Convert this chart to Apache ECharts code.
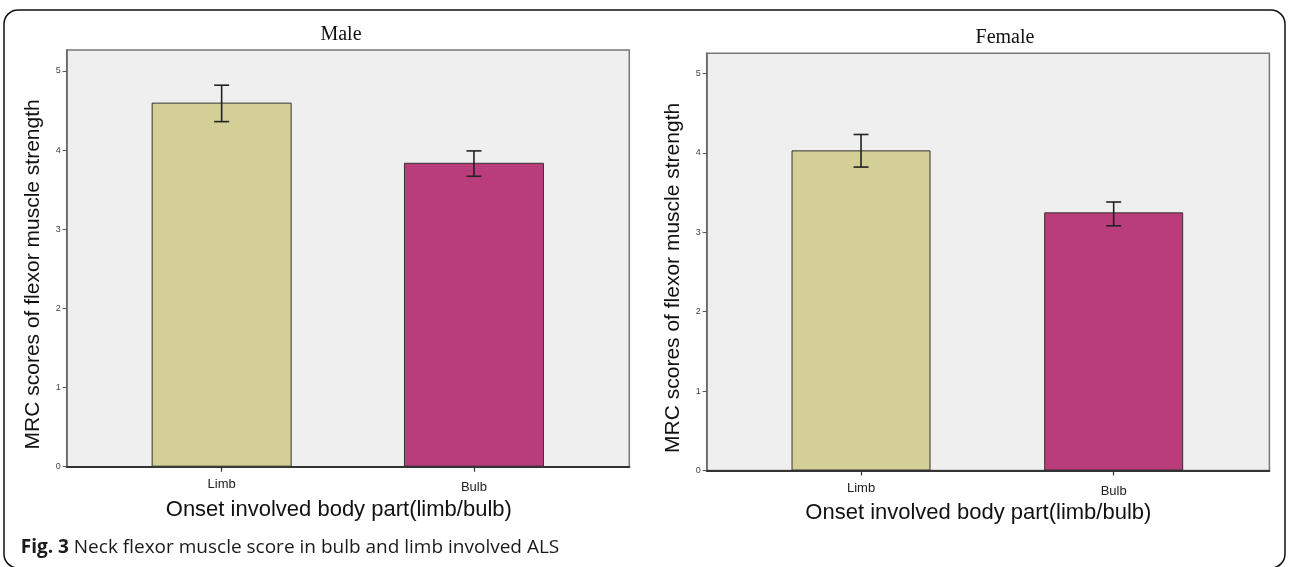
<!DOCTYPE html>
<html><head><meta charset="utf-8">
<script src="https://cdn.jsdelivr.net/npm/echarts@6/dist/echarts.min.js"></script>
<style>html,body{margin:0;padding:0;background:#fff;}#c{width:1290px;height:567px;}</style>
</head><body><div id="c"></div>
<script>
// ---- data ----
const categories = ['Limb', 'Bulb'];
const panelTitles = ['Male', 'Female'];
const maleMeans = [4.60, 3.84];
const maleErrLow = [4.36, 3.67];
const maleErrHigh = [4.82, 3.99];
const femaleMeans = [4.03, 3.25];
const femaleErrLow = [3.82, 3.08];
const femaleErrHigh = [4.23, 3.38];
const yTicks = [0, 1, 2, 3, 4, 5];
const yAxisTitle = 'MRC scores of flexor muscle strength';
const xAxisTitle = 'Onset involved body part(limb/bulb)';
const captionBold = 'Fig. 3';
const captionText = ' Neck flexor muscle score in bulb and limb involved ALS';

// ---- styles / layout ----
const barColors = ['#d3cf97', '#b93c7b'];
const panels = [
  { title: panelTitles[0], means: maleMeans, lo: maleErrLow, hi: maleErrHigh,
    boxL: 66.7, boxR: 629.3, top: 50, bottom: 466.7, barL: 95.5, barW: 504.6, yMax: 5.265,
    titleX: 341, titleY: 35, barWidth: 140 },
  { title: panelTitles[1], means: femaleMeans, lo: femaleErrLow, hi: femaleErrHigh,
    boxL: 706.7, boxR: 1269.4, top: 53.3, bottom: 470.5, barL: 734.7, barW: 505.3, yMax: 5.252,
    titleX: 1005, titleY: 38, barWidth: 139 }
];

const grid = [], xAxis = [], yAxis = [], series = [], graphic = [];
panels.forEach((p, k) => {
  const bg = 2 * k, bi = 2 * k + 1;
  grid.push({ left: p.boxL, top: p.top, width: p.boxR - p.boxL, height: p.bottom - p.top,
    show: true, backgroundColor: '#efefef', borderColor: '#777', borderWidth: 1.5, outerBoundsMode: 'none' });
  grid.push({ left: p.barL, top: p.top, width: p.barW, height: p.bottom - p.top, outerBoundsMode: 'none' });
  xAxis.push({ gridIndex: bg, type: 'value', min: 0, max: 1,
    axisLine: { show: true, lineStyle: { color: '#333', width: 2 } },
    axisTick: { show: false }, axisLabel: { show: false }, splitLine: { show: false } });
  yAxis.push({ gridIndex: bg, type: 'value', min: 0, max: p.yMax, show: false, splitLine: { show: false } });
  xAxis.push({ gridIndex: bi, type: 'category', data: categories,
    axisLine: { show: false },
    axisTick: { show: true, alignWithLabel: true, length: 5, lineStyle: { color: '#333', width: 1.2 } },
    axisLabel: { margin: 11, fontFamily: 'Liberation Sans', fontSize: 13, color: '#222',
      formatter: v => v === categories[1] ? '{b|' + v + '}' : '{a|' + v + '}',
      rich: { a: { fontFamily: 'Liberation Sans', fontSize: 13, color: '#222' },
              b: { fontFamily: 'Liberation Sans', fontSize: 13, color: '#222', padding: [3, 0, 0, 0] } } },
    splitLine: { show: false },
    name: xAxisTitle, nameLocation: 'middle', nameGap: 30,
    nameTextStyle: { fontFamily: 'Liberation Sans', fontSize: 22, color: '#111', padding: [0, 18, 0, 0] } });
  yAxis.push({ gridIndex: bi, type: 'value', min: 0, max: p.yMax, offset: p.barL - p.boxL,
    axisLine: { show: true, lineStyle: { color: '#666', width: 1.5 } },
    axisTick: { show: true, length: 4, customValues: yTicks, lineStyle: { color: '#555' } },
    axisLabel: { customValues: yTicks, fontFamily: 'Liberation Sans', fontSize: 9, color: '#444', margin: 6,
      formatter: v => (yTicks.indexOf(v) >= 0 ? String(v) : '') },
    splitLine: { show: false },
    name: yAxisTitle, nameLocation: 'middle', nameGap: 23, nameRotate: 90,
    nameTextStyle: { fontFamily: 'Liberation Sans', fontSize: 21, color: '#111', padding: [0, 32, 0, 0] } });
  series.push({ type: 'bar', xAxisIndex: bi, yAxisIndex: bi, barWidth: p.barWidth,
    data: p.means.map((v, i) => ({ value: v, itemStyle: { color: barColors[i] } })),
    itemStyle: { borderColor: '#333', borderWidth: 1 }, z: 2, silent: true });
  series.push({ type: 'custom', xAxisIndex: bi, yAxisIndex: bi, z: 5, silent: true,
    data: categories.map((c, i) => [i, p.lo[i], p.hi[i]]),
    renderItem: (params, api) => {
      const x = api.value(0);
      const a = api.coord([x, api.value(2)]);
      const b = api.coord([x, api.value(1)]);
      const hw = 7.5;
      const st = { stroke: '#222', lineWidth: 1.6 };
      return { type: 'group', children: [
        { type: 'line', shape: { x1: a[0], y1: a[1], x2: b[0], y2: b[1] }, style: st },
        { type: 'line', shape: { x1: a[0] - hw, y1: a[1], x2: a[0] + hw, y2: a[1] }, style: st },
        { type: 'line', shape: { x1: b[0] - hw, y1: b[1], x2: b[0] + hw, y2: b[1] }, style: st }
      ] };
    } });
  graphic.push({ type: 'text', x: p.titleX, y: p.titleY, z: 10,
    style: { text: p.title, x: 0, y: 0, textAlign: 'center', textVerticalAlign: 'middle',
      font: '20px "Liberation Serif"', fill: '#111' } });
});

graphic.push({ type: 'rect', z: -1, shape: { x: 4, y: 10, width: 1281, height: 558, r: 14 },
  style: { fill: 'none', stroke: '#111', lineWidth: 1.5 } });
graphic.push({ type: 'text', x: 20.7, y: 548, z: 10,
  style: { text: '{b|' + captionBold + '}{r|' + captionText + '}', textVerticalAlign: 'middle',
    rich: { b: { fontFamily: 'Open Sans', fontWeight: 'bold', fontSize: 19, fill: '#1a1a1a', color: '#1a1a1a' },
            r: { fontFamily: 'Open Sans', fontSize: 19, fill: '#1a1a1a', color: '#1a1a1a' } } } });

const chart = echarts.init(document.getElementById('c'), null, { renderer: 'canvas' });
chart.setOption({ animation: false, backgroundColor: '#fff', grid, xAxis, yAxis, series, graphic });
</script></body></html>
